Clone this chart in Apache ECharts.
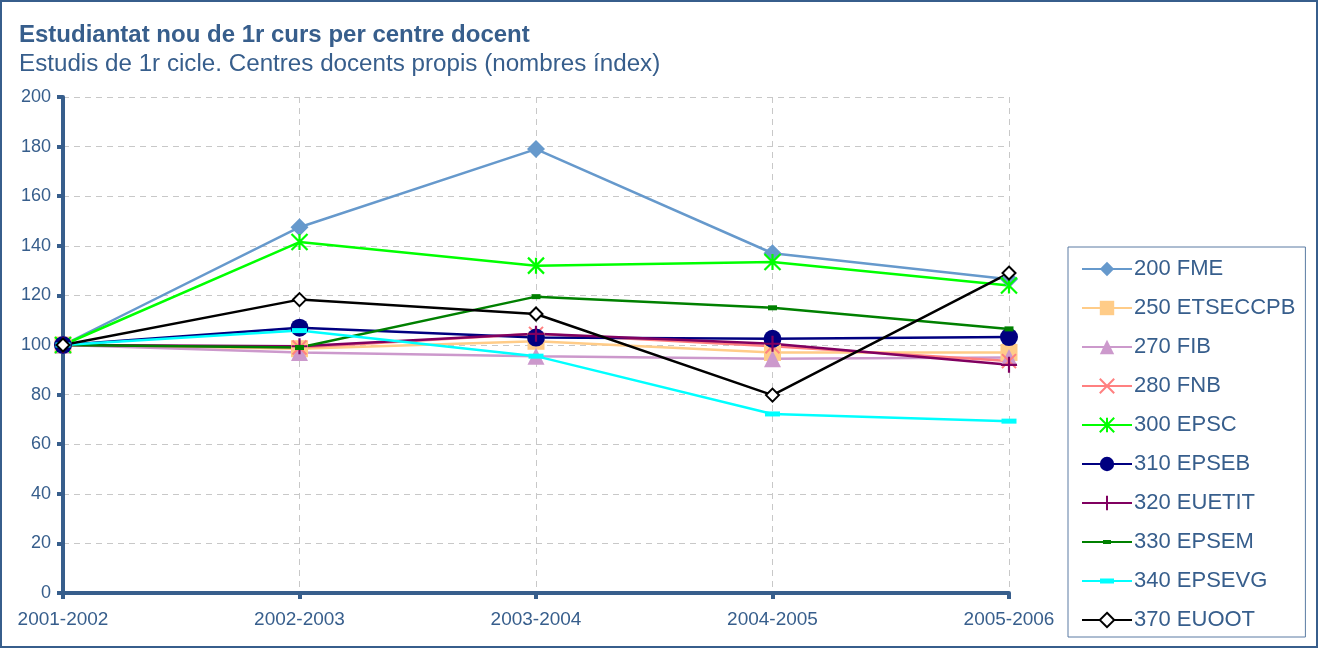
<!DOCTYPE html>
<html>
<head>
<meta charset="utf-8">
<script src="https://cdn.jsdelivr.net/npm/echarts@6/dist/echarts.min.js"></script>
<style>
html,body{margin:0;padding:0;background:#fff;}
#chart{width:1318px;height:648px;}
</style>
</head>
<body>
<div id="chart"></div>
<script>
const categories = ['2001-2002','2002-2003','2003-2004','2004-2005','2005-2006'];
const seriesNames = ['200 FME','250 ETSECCPB','270 FIB','280 FNB','300 EPSC','310 EPSEB','320 EUETIT','330 EPSEM','340 EPSEVG','370 EUOOT'];
const fme      = [100, 147.5, 179, 137, 126.5];
const etseccpb = [100, 98.5, 101.5, 97, 97];
const fib      = [100, 97, 95.5, 94.5, 95];
const fnb      = [100, 99, 104.5, 99.5, 93.5];
const epsc     = [100, 141.5, 132, 133.5, 124];
const epseb    = [100, 107, 103, 102.5, 103.2];
const euetit   = [100, 99.5, 104.5, 100.5, 92];
const epsem    = [100, 99, 119.5, 115, 106.5];
const epsevg   = [100, 105.8, 95.5, 72.2, 69.3];
const euoot    = [100, 118.3, 112.5, 79.8, 129];
const yTicks = {min:0, max:200, interval:20};

const txt = '#375E8C';
const font = '"Liberation Sans", Arial, sans-serif';
const pX = 'path://M0,0L10,10M10,0L0,10';
const pStar = 'path://M5,0L5,10M0,0L10,10M10,0L0,10';
const pPlus = 'path://M5,0L5,10M0,5L10,5';
const iconEpsem = 'path://M0,8L21,8L21,7L29,7L29,8L50,8L50,10L29,10L29,11L21,11L21,10L0,10Z';
const iconEpsevg = 'path://M0,8L18,8L18,6.5L32,6.5L32,8L50,8L50,10L32,10L32,11.5L18,11.5L18,10L0,10Z';

function mk(name, data, color, symbol, size, extraItem, lineColor){
  return {
    name, type:'line', data, symbol, symbolSize:size,
    showAllSymbol:true,
    lineStyle:{color:lineColor||color, width:2.5},
    itemStyle:Object.assign({color:color}, extraItem||{}),
    emphasis:{disabled:true},
    animation:false
  };
}

const legendData = seriesNames.map((n,i)=>{
  if (i===7) return {name:n, icon:iconEpsem};
  if (i===8) return {name:n, icon:iconEpsevg};
  return {name:n};
});

const chart = echarts.init(document.getElementById('chart'));
chart.setOption({
  backgroundColor:'#fff',
  animation:false,
  textStyle:{fontFamily:font},
  title:{
    text:'Estudiantat nou de 1r curs per centre docent',
    subtext:'Estudis de 1r cicle. Centres docents propis (nombres índex)',
    left:14, top:18,
    textStyle:{fontFamily:font, fontSize:24, fontWeight:'bold', color:txt},
    subtextStyle:{fontFamily:font, fontSize:24.2, color:txt},
    itemGap:5
  },
  legend:{
    orient:'vertical',
    left:1068, top:247,
    padding:[11,10,6,13],
    itemGap:17,
    itemWidth:50, itemHeight:18,
    borderColor:'#5A7BA3', borderWidth:1,
    textStyle:{fontFamily:font, fontSize:22, lineHeight:22, color:txt, padding:[0,0,0,-3]},
    data:legendData
  },
  grid:{left:63, right:309, top:97, bottom:55, containLabel:false},
  xAxis:{
    type:'category', data:categories, boundaryGap:false,
    axisLine:{lineStyle:{color:'#375E8C', width:4}},
    axisTick:{show:true, length:6, lineStyle:{color:'#375E8C', width:4}},
    axisLabel:{fontFamily:font, fontSize:19, color:txt, margin:17},
    splitLine:{show:true, lineStyle:{color:'#C8C8C8', type:[6,5], width:1}}
  },
  yAxis:{
    type:'value', min:yTicks.min, max:yTicks.max, interval:yTicks.interval,
    axisLine:{show:true, lineStyle:{color:'#375E8C', width:4}},
    axisTick:{show:true, length:6, lineStyle:{color:'#375E8C', width:4}},
    axisLabel:{fontFamily:font, fontSize:18, color:txt, margin:12},
    splitLine:{show:true, lineStyle:{color:'#C8C8C8', type:[6,5], width:1}}
  },
  graphic:[{type:'rect', shape:{x:1, y:1, width:1316, height:646}, style:{fill:'none', stroke:'#375E8C', lineWidth:2}, silent:true}],
  series:[
    mk(seriesNames[0], fme, '#6699CC', 'diamond', 18),
    mk(seriesNames[1], etseccpb, '#FFCC88', 'rect', 17),
    mk(seriesNames[2], fib, '#CC99CC', 'triangle', 17),
    mk(seriesNames[3], fnb, '#FF8080', pX, 14, {borderColor:'#FF8080', borderWidth:2}),
    mk(seriesNames[4], epsc, '#00FF00', pStar, 16, {borderColor:'#00FF00', borderWidth:2.2}),
    mk(seriesNames[5], epseb, '#000080', 'circle', 18),
    mk(seriesNames[6], euetit, '#800060', pPlus, 16, {borderColor:'#800060', borderWidth:2.2}),
    mk(seriesNames[7], epsem, '#008000', 'rect', [9,5]),
    mk(seriesNames[8], epsevg, '#00FFFF', 'rect', [15,5]),
    mk(seriesNames[9], euoot, '#FFFFFF', 'diamond', 13, {borderColor:'#000000', borderWidth:2}, '#000000')
  ]
});
</script>
</body>
</html>
